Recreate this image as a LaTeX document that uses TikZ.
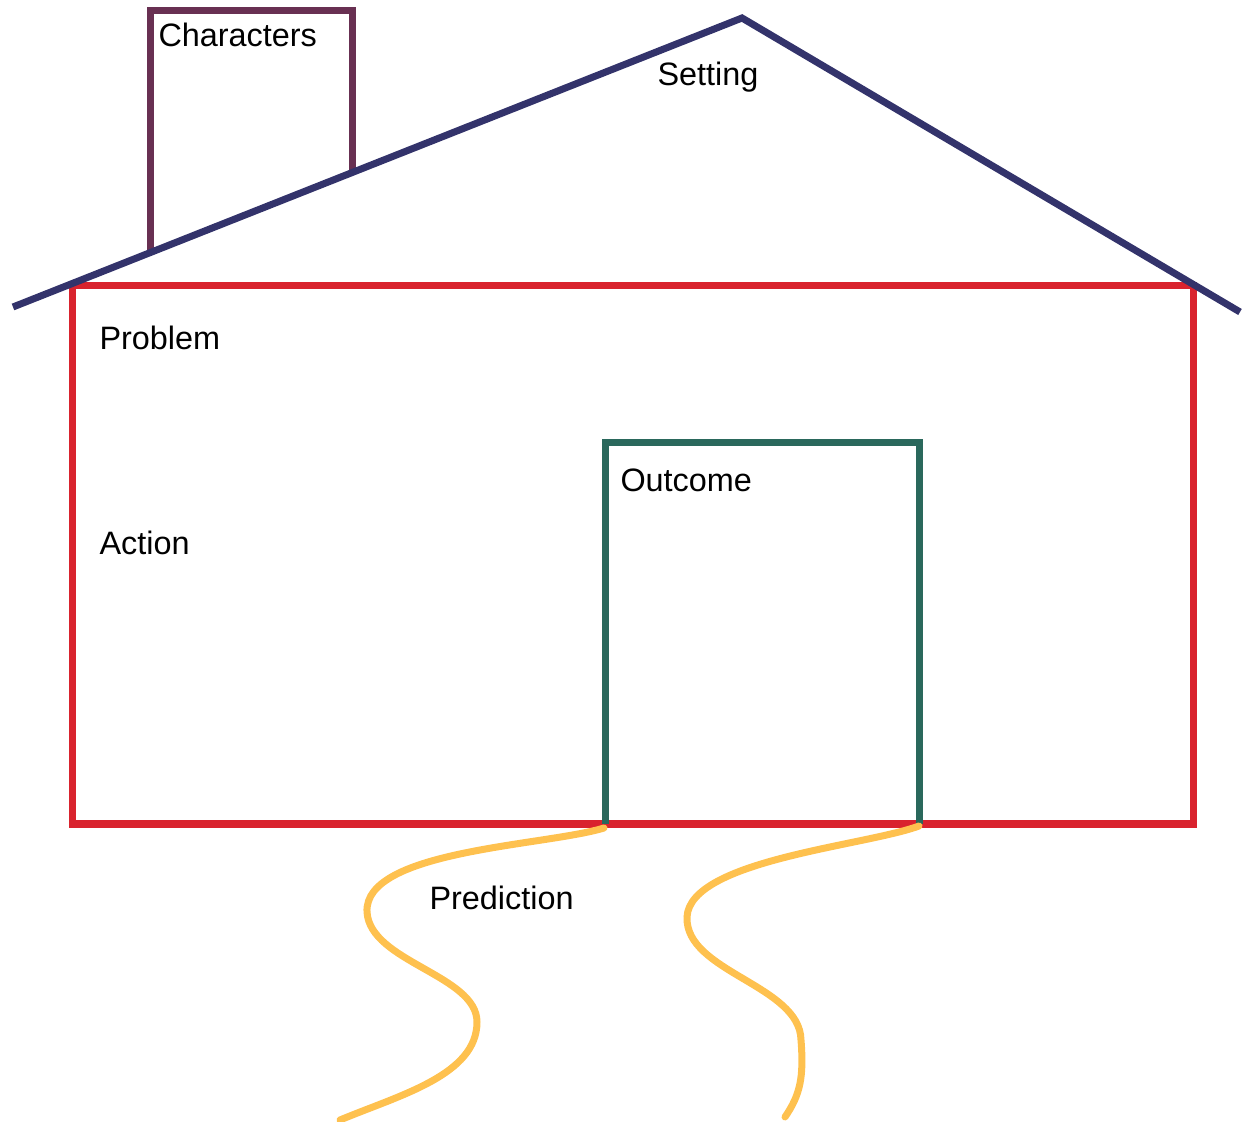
\documentclass[tikz,border=0pt]{standalone}
\usepackage{fontspec}
\setmainfont{Liberation Sans}
\begin{document}
\begin{tikzpicture}[x=0.5pt,y=-0.5pt,
  line width=3.5pt,
  lbl/.style={anchor=base west,inner sep=0pt,font=\fontsize{16.2}{19}\selectfont},
  roofline/.style={draw={rgb,255:red,51;green,51;blue,107}},
  chim/.style={draw={rgb,255:red,104;green,48;blue,82}},
  wall/.style={draw={rgb,255:red,217;green,35;blue,46}},
  door/.style={draw={rgb,255:red,42;green,104;blue,92}},
  road/.style={draw={rgb,255:red,254;green,193;blue,79},line cap=round}]
\useasboundingbox (0,0) rectangle (1243,1122);
% coordinates
\coordinate (wallNW) at (72,286);
\coordinate (wallSE) at (1193,824);
\coordinate (doorNW) at (605,443);
\coordinate (doorSE) at (919,824);
\coordinate (roofL) at (13,307);
\coordinate (roofT) at (742,18);
\coordinate (roofR) at (1240,312);
\coordinate (chA) at (150,250);
\coordinate (chB) at (150,11);
\coordinate (chC) at (352,11);
\coordinate (chD) at (352,172);
% chimney
\draw[chim] (chA) -- (chB) -- (chC) -- (chD);
% walls
\draw[wall] (wallNW) rectangle (wallSE);
% door
\draw[door] (doorSE) -- (doorSE |- doorNW) -- (doorNW) -- (doorNW |- doorSE);
% roof
\draw[roofline] (roofL) -- (roofT) -- (roofR);
% paths
\draw[road] (604,828) .. controls (545,846) and (364,850) .. (367,912)
  .. controls (370,962) and (477,975) .. (477,1022)
  .. controls (477,1075) and (400,1095) .. (340,1120);
\draw[road] (919,826) .. controls (865,846) and (690,860) .. (687,917)
  .. controls (685,972) and (800,985) .. (801,1040)
  .. controls (804,1078) and (800,1095) .. (785,1117);
% labels
\node[lbl] (characters) at (155,47) {Characters};
\node[lbl] (setting) at (654,86) {Setting};
\node[lbl] (problem) at (96,350) {Problem};
\node[lbl] (action) at (96,555) {Action};
\node[lbl] (outcome) at (617,492) {Outcome};
\node[lbl] (prediction) at (426,909) {Prediction};
\end{tikzpicture}
\end{document}
